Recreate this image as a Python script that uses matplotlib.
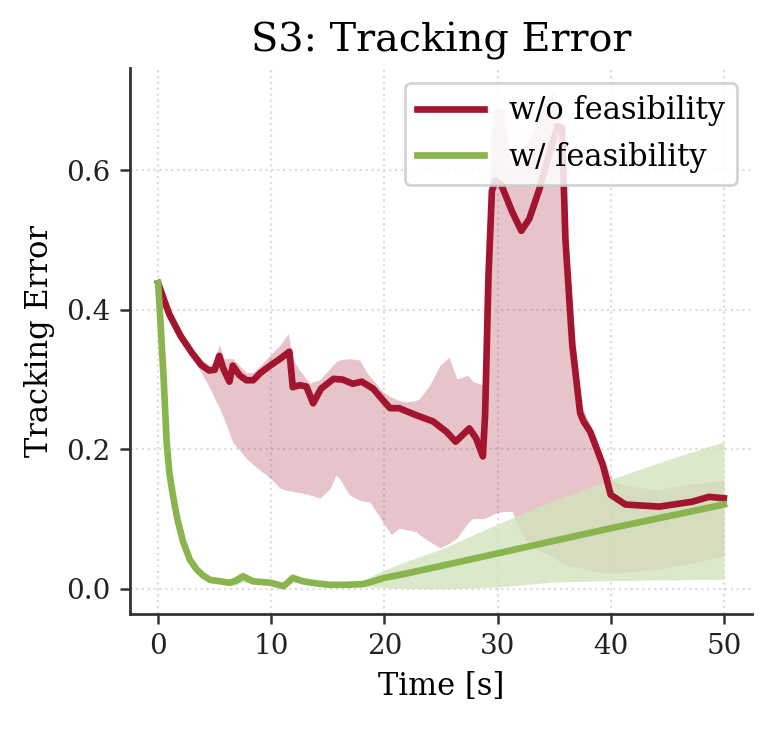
import matplotlib
matplotlib.use("Agg")
import matplotlib.pyplot as plt

# --- data ---
# w/o feasibility: mean curve
t_red = [0, 0.5, 1.0, 2.0, 3.0, 3.8, 4.5, 5.0, 5.4, 5.75, 6.3, 6.6, 7.2, 7.8, 8.4, 9.0,
         9.9, 10.8, 11.6, 11.9, 12.5, 13.1, 13.7, 14.4, 15.5, 16.3, 17.2, 18.0, 19.0,
         20.0, 20.5, 21.3, 22.8, 24.3, 25.5, 26.3, 27.5, 28.1, 28.7, 28.9, 29.2, 29.5,
         29.8, 30.3, 31.3, 32.1, 32.8, 33.7, 34.6, 35.3, 35.7, 36.0, 36.6, 37.3, 37.6,
         38.2, 39.3, 40.0, 41.3, 44.3, 47.2, 48.7, 50.0]
err_red = [0.438, 0.415, 0.393, 0.362, 0.338, 0.321, 0.313, 0.314, 0.334, 0.316, 0.297,
           0.320, 0.306, 0.299, 0.299, 0.309, 0.320, 0.330, 0.340, 0.289, 0.292, 0.290,
           0.266, 0.287, 0.301, 0.300, 0.294, 0.297, 0.287, 0.268, 0.259, 0.259, 0.249,
           0.240, 0.225, 0.211, 0.230, 0.216, 0.190, 0.25, 0.45, 0.57, 0.585, 0.58, 0.54,
           0.513, 0.53, 0.573, 0.625, 0.663, 0.661, 0.50, 0.35, 0.252, 0.24, 0.225, 0.178,
           0.135, 0.121, 0.118, 0.125, 0.132, 0.13]

# w/o feasibility: spread band
t_red_band = [0, 1, 2, 3, 3.8, 4.5, 5.0, 5.4, 5.8, 6.6, 7.8, 8.4, 9.9, 10.8, 11.5, 11.9,
              12.5, 13.4, 14.3, 15.2, 15.7, 16.0, 16.9, 17.8, 18.4, 18.7, 19.9, 20.6,
              21.3, 21.9, 22.8, 23.1, 24.0, 24.9, 25.7, 26.4, 27.4, 27.8, 28.8, 29.1,
              29.4, 29.7, 30.5, 31.3, 32.1, 32.8, 33.7, 34.8, 35.4, 35.9, 36.3, 37.4,
              38.2, 39.3, 40.2, 41.3, 44.1, 47.0, 50.0]
red_upper = [0.441, 0.396, 0.365, 0.341, 0.33, 0.32, 0.325, 0.351, 0.33, 0.33, 0.31, 0.31,
             0.335, 0.35, 0.366, 0.33, 0.313, 0.295, 0.30, 0.316, 0.325, 0.328, 0.33,
             0.328, 0.311, 0.305, 0.282, 0.275, 0.27, 0.268, 0.27, 0.273, 0.292, 0.32,
             0.332, 0.301, 0.306, 0.297, 0.292, 0.45, 0.65, 0.69, 0.687, 0.60, 0.62,
             0.644, 0.68, 0.711, 0.70, 0.60, 0.45, 0.262, 0.235, 0.19, 0.154, 0.148,
             0.142, 0.15, 0.156]
red_lower = [0.435, 0.390, 0.359, 0.333, 0.31, 0.29, 0.273, 0.26, 0.245, 0.21, 0.187,
             0.178, 0.159, 0.144, 0.141, 0.14, 0.138, 0.135, 0.13, 0.144, 0.163, 0.159,
             0.135, 0.127, 0.125, 0.125, 0.095, 0.078, 0.087, 0.085, 0.082, 0.078, 0.068,
             0.059, 0.065, 0.073, 0.095, 0.101, 0.101, 0.103, 0.105, 0.108, 0.111, 0.111,
             0.08, 0.065, 0.055, 0.047, 0.04, 0.035, 0.033, 0.03, 0.027, 0.024, 0.023,
             0.024, 0.028, 0.037, 0.047]

# w/ feasibility: mean curve and band
t_green = [0, 0.25, 0.5, 0.75, 1.0, 1.35, 1.7, 2.2, 2.8, 3.4, 4.0, 4.6, 5.5, 6.3, 6.9,
           7.5, 8.4, 9.9, 11.1, 11.9, 12.8, 14.0, 15.2, 16.5, 18.1, 19.0, 20.0, 21.3,
           25, 30, 35, 40, 45, 50]
err_green = [0.438, 0.37, 0.297, 0.21, 0.165, 0.13, 0.10, 0.068, 0.042, 0.028, 0.019,
             0.013, 0.011, 0.009, 0.012, 0.018, 0.011, 0.009, 0.004, 0.016, 0.011, 0.008,
             0.006, 0.006, 0.007, 0.011, 0.016, 0.020, 0.033, 0.051, 0.069, 0.087, 0.104,
             0.121]
green_upper = [0.44, 0.372, 0.30, 0.213, 0.168, 0.133, 0.103, 0.071, 0.045, 0.031, 0.022,
               0.016, 0.014, 0.013, 0.02, 0.025, 0.015, 0.012, 0.008, 0.02, 0.014, 0.011,
               0.009, 0.009, 0.012, 0.02, 0.027, 0.036, 0.057, 0.093, 0.127, 0.157, 0.185,
               0.211]
green_lower = [0.436, 0.368, 0.294, 0.207, 0.162, 0.127, 0.097, 0.065, 0.039, 0.025, 0.016,
               0.01, 0.007, 0.005, 0.006, 0.01, 0.007, 0.006, 0.002, 0.01, 0.007, 0.005,
               0.004, 0.003, 0.003, 0.003, 0.002, 0.001, 0.0, 0.003, 0.01, 0.012, 0.013,
               0.014]

RED = "#A3142F"
GREEN = "#8AB54E"
GREEN_FILL = "#D2E3BC"

plt.rcParams["font.family"] = ["DejaVu Serif"]

fig = plt.figure(figsize=(3.865, 3.645), dpi=200)
ax = fig.add_axes([0.168, 0.158, 0.805, 0.749])

ax.fill_between(t_red_band, red_lower, red_upper, color=RED, alpha=0.25, lw=0)
ax.fill_between(t_green, green_lower, green_upper, color=GREEN_FILL, alpha=0.8, lw=0)
ax.plot(t_red, err_red, color=RED, lw=2.4, label="w/o feasibility")
ax.plot(t_green, err_green, color=GREEN, lw=2.4, label="w/ feasibility")

ax.set_title("S3: Tracking Error", fontsize=14.3)
ax.set_xlabel("Time [s]", fontsize=11)
ax.set_ylabel("Tracking Error", fontsize=11)
ax.set_xticks([0, 10, 20, 30, 40, 50])
ax.set_yticks([0.0, 0.2, 0.4, 0.6])
ax.tick_params(labelsize=10, length=3.5, width=0.9, colors="#333333", labelcolor="#222222")

for side in ["top", "right"]:
    ax.spines[side].set_visible(False)
for side in ["left", "bottom"]:
    ax.spines[side].set_color("#333333")
    ax.spines[side].set_linewidth(1.0)

ax.grid(True, linestyle=":", color="#dddddd", linewidth=0.8)
ax.set_axisbelow(True)

leg = ax.legend(loc="upper right", fontsize=11, framealpha=0.85, edgecolor="#cccccc",
                handlelength=2.2, borderpad=0.4, labelspacing=0.5)

fig.savefig("out.png", dpi=200)
